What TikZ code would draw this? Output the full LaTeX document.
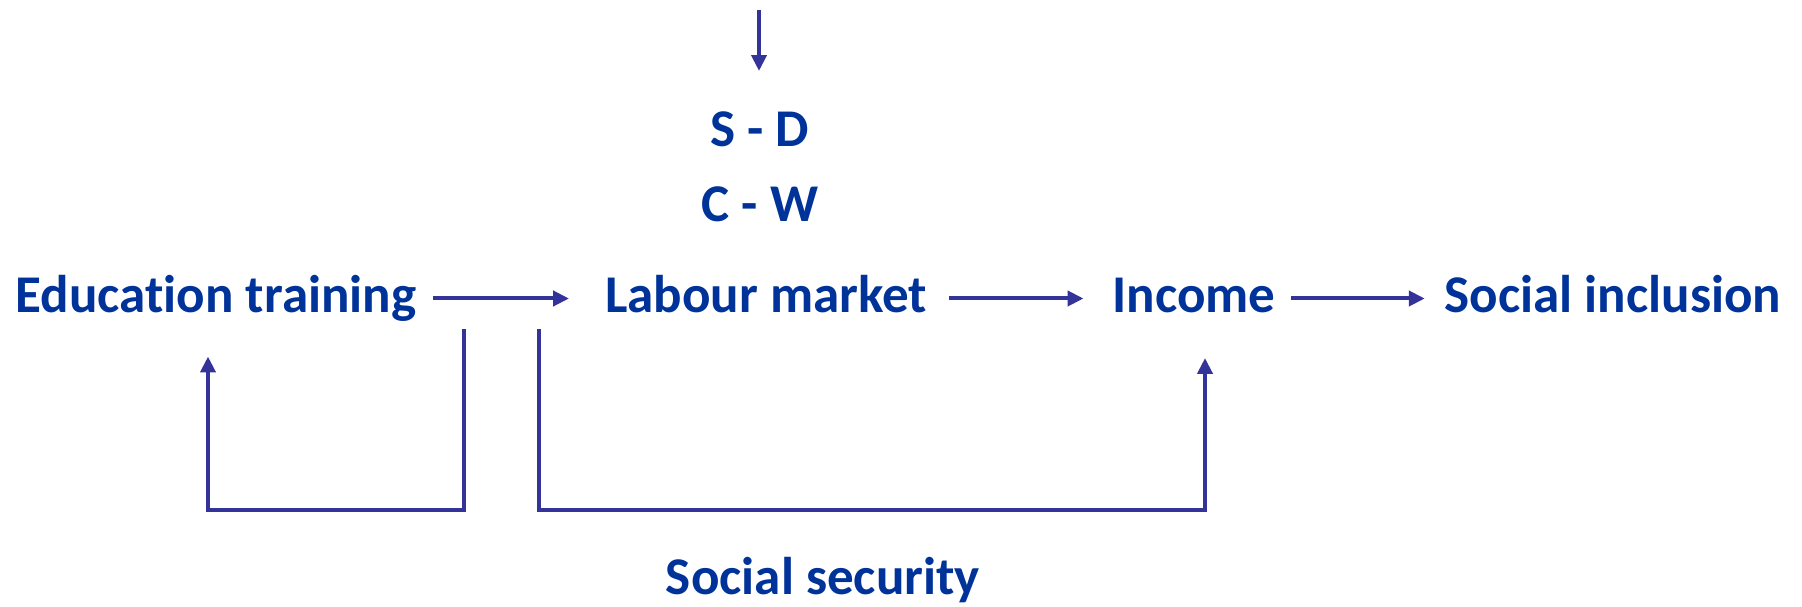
\documentclass[tikz,border=0pt]{standalone}
\usepackage{fontspec}
\setmainfont{Carlito}[Ligatures=NoCommon]
\usetikzlibrary{arrows.meta}

\definecolor{textblue}{RGB}{0,51,153}
\definecolor{lineblue}{RGB}{51,51,153}

\tikzset{
  word/.style={anchor=base, inner sep=0pt, outer sep=0pt, text=textblue,
    text height=0.75cm, text depth=0.17cm,
    font=\fontsize{30.2}{36}\selectfont\bfseries},
  flow/.style={draw=lineblue, line width=0.08cm,
    -{Triangle[length=0.32cm, width=0.3cm]}},
  bar/.style={draw=lineblue, line width=0.08cm}
}

\begin{document}
\begin{tikzpicture}[x=0.02cm, y=-0.02cm]
  \useasboundingbox (0,0) rectangle (1802,607);

  % Main row
  \node[word] (edu) at (216,313) {Education training};
  \node[word] (labour) at (766,313) {Labour market};
  \node[word] (income) at (1194,313) {Income};
  \node[word] (inclusion) at (1613,313) {Social inclusion};

  % Conditions above the labour market
  \node[word] (sd) at (760,147) {S - D};
  \node[word] (cw) at (760,222) {C - W};
  \node[word] (secur) at (823,595) {Social security};

  \coordinate (sdin) at (759,10);
  \coordinate (fbA) at (464,329);
  \coordinate (fbB) at (208,510);
  \coordinate (ssA) at (539,329);
  \coordinate (ssB) at (1205,510);

  \draw[flow, shorten >=0.77cm] (sdin) -- (sdin |- sd.north);

  \draw[flow, shorten <=0.34cm, shorten >=0.72cm] (edu.east) -- (labour.west);
  \draw[flow, shorten <=0.44cm, shorten >=0.58cm] (labour.east) -- (income.west);
  \draw[flow, shorten <=0.32cm, shorten >=0.4cm] (income.east) -- (inclusion.west);

  % Feedback loops
  \draw[flow, shorten >=0.7cm] (fbA) |- (fbB) -- (fbB |- edu.south);
  \draw[flow, shorten >=0.73cm] (ssA) |- (ssB) -- (ssB |- income.south);
\end{tikzpicture}
\end{document}
